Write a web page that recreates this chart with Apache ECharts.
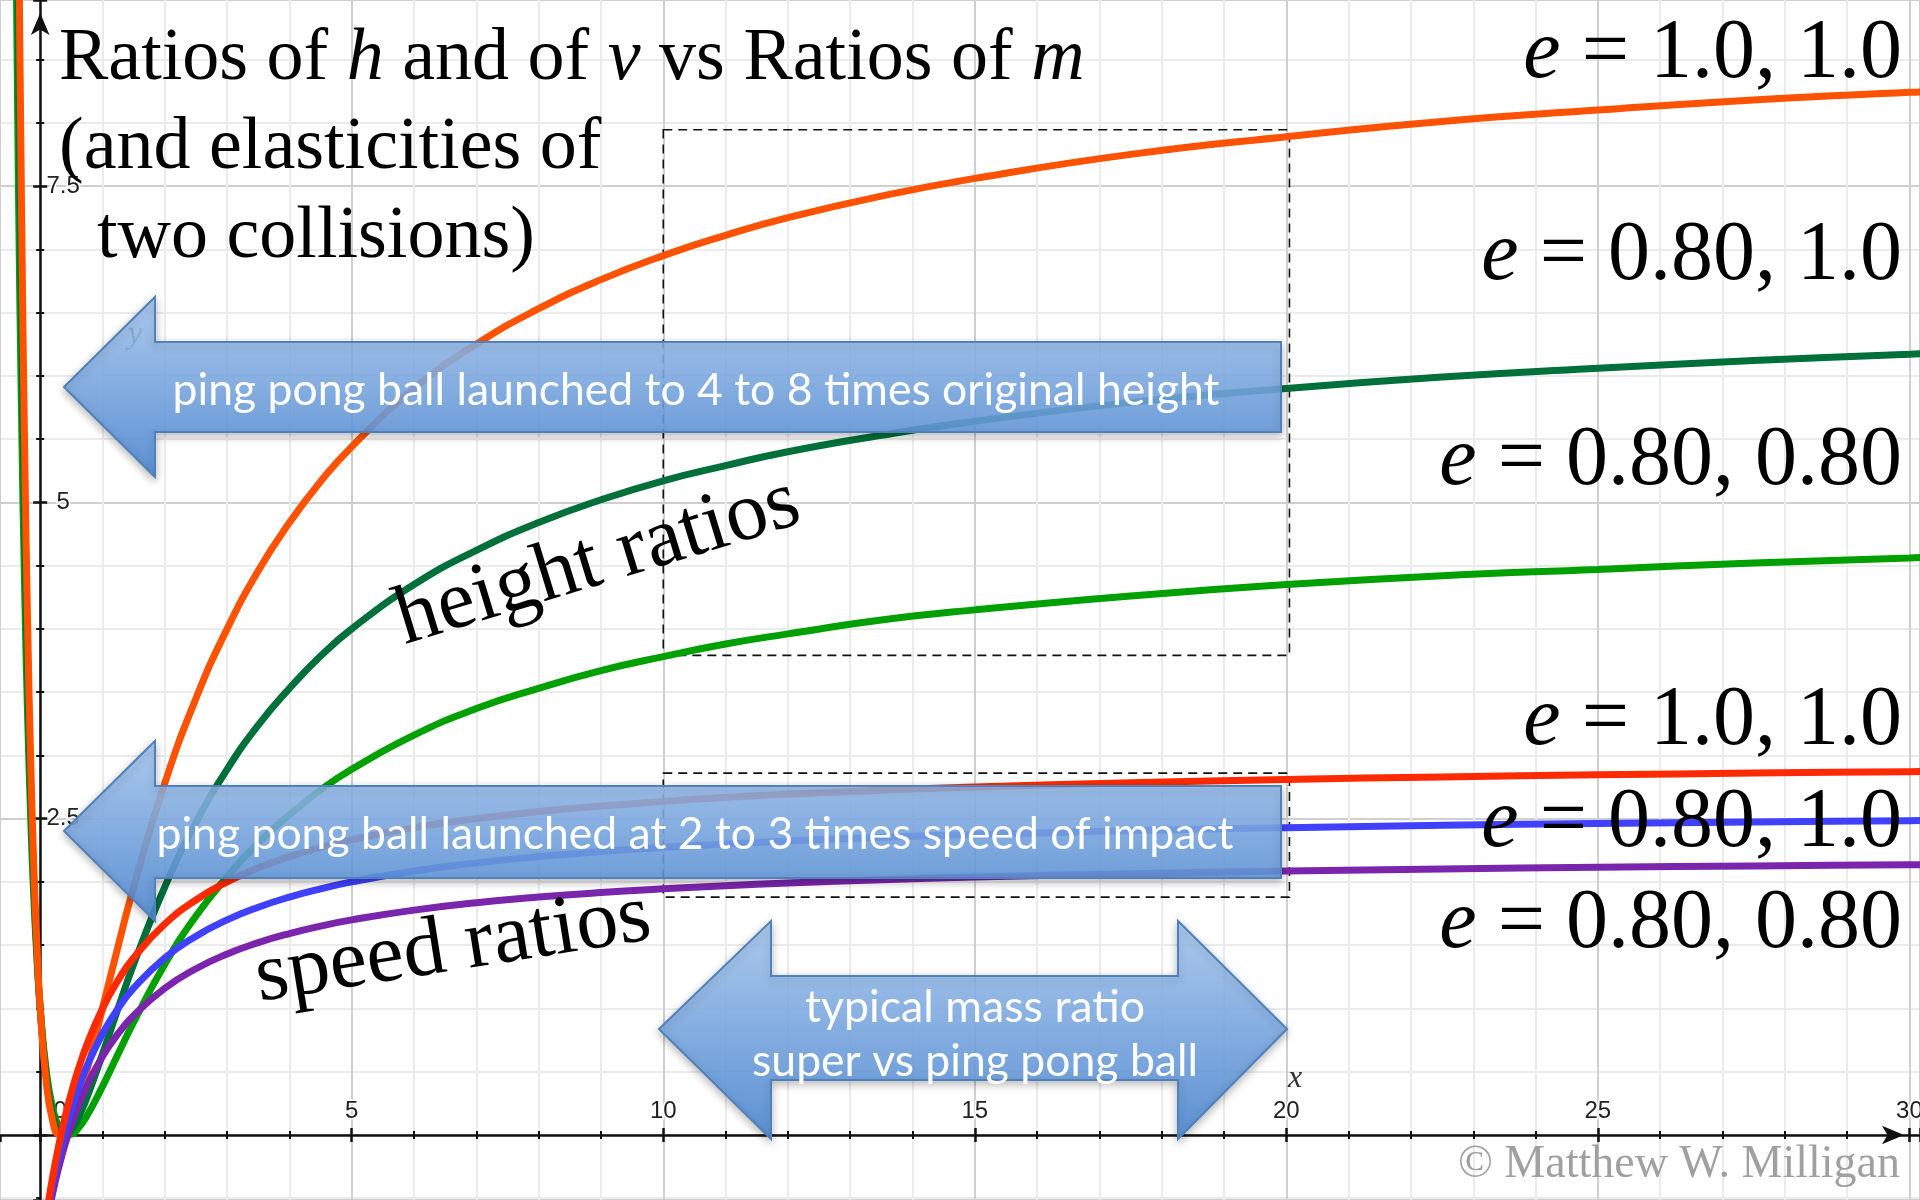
<!DOCTYPE html>
<html><head><meta charset="utf-8">
<script src="https://cdn.jsdelivr.net/npm/echarts@6/dist/echarts.min.js"></script>
<style>html,body{margin:0;padding:0;background:#fff}#c{width:1920px;height:1200px}</style>
</head><body><div id="c"></div>
<script>
// ---- data ----
const massRatioHeight = [-0.4, -0.35, -0.3, -0.25, -0.2, -0.15, -0.1, -0.05, 0, 0.1, 0.2, 0.3, 0.4, 0.5, 0.6, 0.75, 1, 1.25, 1.5, 2, 2.5, 3, 3.5, 4, 4.5, 5, 6, 7, 8, 9, 10, 11, 12, 13.5, 15, 17.5, 20, 22.5, 25, 27.5, 30, 30.5];
const heightE11   = [13.44, 9.95, 7.37, 5.44, 4.00, 2.91, 2.09, 1.47, 1.00, 0.405, 0.111, 0.006, 0.020, 0.111, 0.25, 0.51, 1.00, 1.49, 1.96, 2.78, 3.45, 4.00, 4.46, 4.84, 5.165, 5.44, 5.90, 6.25, 6.53, 6.76, 6.95, 7.11, 7.25, 7.42, 7.56, 7.75, 7.89, 8.01, 8.10, 8.18, 8.24, 8.25];
const heightE0810 = [11.56, 8.64, 6.47, 4.84, 3.61, 2.67, 1.96, 1.42, 1.00, 0.453, 0.160, 0.029, 0.001, 0.040, 0.123, 0.295, 0.64, 1.00, 1.35, 1.96, 2.47, 2.89, 3.24, 3.53, 3.785, 4.00, 4.35, 4.62, 4.84, 5.02, 5.17, 5.29, 5.40, 5.53, 5.64, 5.79, 5.90, 5.99, 6.06, 6.12, 6.17, 6.18];
const heightE0808 = [9.99, 7.53, 5.71, 4.33, 3.28, 2.47, 1.85, 1.37, 1.00, 0.498, 0.212, 0.064, 0.006, 0.006, 0.046, 0.151, 0.384, 0.64, 0.891, 1.35, 1.73, 2.04, 2.31, 2.53, 2.726, 2.89, 3.16, 3.37, 3.53, 3.67, 3.78, 3.88, 3.96, 4.07, 4.15, 4.26, 4.35, 4.42, 4.47, 4.52, 4.56, 4.57];

const massRatioSpeed = [0.1, 0.2, 0.3, 0.4, 0.5, 0.6, 0.75, 1, 1.25, 1.5, 2, 2.5, 3, 3.5, 4, 4.5, 5, 6, 7, 8, 9, 10, 11, 12, 13.5, 15, 17.5, 20, 22.5, 25, 27.5, 30, 30.5];
const speedE11   = [-0.636, -0.333, -0.077, 0.143, 0.333, 0.5, 0.714, 1.0, 1.222, 1.4, 1.667, 1.857, 2.0, 2.111, 2.2, 2.273, 2.333, 2.429, 2.5, 2.556, 2.6, 2.636, 2.667, 2.692, 2.724, 2.75, 2.784, 2.81, 2.83, 2.846, 2.86, 2.871, 2.873];
const speedE0810 = [-0.673, -0.4, -0.169, 0.029, 0.2, 0.35, 0.543, 0.8, 1.0, 1.16, 1.4, 1.571, 1.7, 1.8, 1.88, 1.945, 2.0, 2.086, 2.15, 2.2, 2.24, 2.273, 2.3, 2.323, 2.352, 2.375, 2.405, 2.429, 2.447, 2.462, 2.474, 2.484, 2.486];
const speedE0808 = [-0.705, -0.46, -0.252, -0.074, 0.08, 0.215, 0.389, 0.62, 0.8, 0.944, 1.16, 1.314, 1.43, 1.52, 1.592, 1.651, 1.7, 1.777, 1.835, 1.88, 1.916, 1.945, 1.97, 1.991, 2.017, 2.038, 2.065, 2.086, 2.102, 2.115, 2.126, 2.136, 2.137];

// dashed boxes [xFrom, yTop, xTo, yBottom]
const dashBoxes = [[10, 7.945, 20.05, 3.79], [10, 2.86, 20.05, 1.88]];

const titleLines = ['Ratios of {i|h} and of {i|v} vs Ratios of {i|m}', '(and elasticities of', 'two collisions)'];
const elasticityLabels = ['1.0, 1.0', '0.80, 1.0', '0.80, 0.80', '1.0, 1.0', '0.80, 1.0', '0.80, 0.80'];
const arrowTexts = ['ping pong ball launched to 4 to 8 times original height', 'ping pong ball launched at 2 to 3 times speed of impact'];
const massArrowText = ['typical mass ratio', 'super vs ping pong ball'];

// ---- layout ----
const W = 1920, H = 1200;
const X_MIN = -0.645, X_MAX = 30.17, Y_MIN = -0.514, Y_MAX = 8.97;
const ZERO_LEFT = -X_MIN / (X_MAX - X_MIN) * W;          // pixel column of x = 0
const ZERO_BOTTOM = H - Y_MAX / (Y_MAX - Y_MIN) * H;     // distance of y = 0 from the bottom
const SERIF = '"Liberation Serif", "Times New Roman", serif';
const SANS = 'Lato, "Open Sans", sans-serif';

const mctx = document.createElement('canvas').getContext('2d');
function fit(text, family, target) { mctx.font = '100px ' + family; return 100 * target / mctx.measureText(text).width; }

const zip = (xs, ys) => xs.map((x, i) => [x, ys[i]]);

const tickStyle = { color: '#111', width: 2.5 };
function ticks(inside) {
  return {
    axisTick: { show: true, inside, length: 7, lineStyle: tickStyle },
    minorTick: { show: true, splitNumber: 5, length: 4, lineStyle: { color: '#111', width: 2 } }
  };
}
const labelBase = { fontFamily: '"Liberation Sans", Arial, sans-serif', fontSize: 24, color: '#222',
  textBorderColor: '#fff', textBorderWidth: 3, showMaxLabel: false };

const chart = echarts.init(document.getElementById('c'), null, { renderer: 'canvas' });

function lineSeries(name, xs, ys, color) {
  return { name, type: 'line', data: zip(xs, ys), showSymbol: false, symbol: 'none',
    smooth: 0.5, lineStyle: { color, width: 7 }, itemStyle: { color }, z: 3, animation: false };
}

const series = [
  lineSeries('h e=0.80,0.80', massRatioHeight, heightE0808, '#00a000'),
  lineSeries('h e=0.80,1.0', massRatioHeight, heightE0810, '#00703a'),
  lineSeries('h e=1.0,1.0', massRatioHeight, heightE11, '#ff5200'),
  lineSeries('v e=0.80,0.80', massRatioSpeed, speedE0808, '#7b25ad'),
  lineSeries('v e=0.80,1.0', massRatioSpeed, speedE0810, '#4040ff'),
  lineSeries('v e=1.0,1.0', massRatioSpeed, speedE11, '#ff2a00')
];
series[0].markArea = { silent: true,
  itemStyle: { color: 'rgba(0,0,0,0)', borderColor: '#111', borderWidth: 1.6, borderType: [9, 6] },
  data: dashBoxes.map(b => [{ coord: [b[0], b[1]] }, { coord: [b[2], b[3]] }]) };

// ---- graphics ----
const graphics = [];
function txt(text, x, y, font, opts) {
  opts = opts || {};
  graphics.push({ type: 'text', x, y, rotation: opts.rotation || 0, z: opts.z || 50,
    style: { text, x: 0, y: 0, font, fill: opts.fill || '#000', align: opts.align || 'left', textAlign: opts.align || 'left',
      verticalAlign: 'middle', textVerticalAlign: 'middle', rich: opts.rich } });
}
const italic74 = { i: { font: 'italic 74px ' + SERIF } };
txt(titleLines[0], 59, 60, '74px ' + SERIF, { rich: italic74 });
txt(titleLines[1], 59, 149, '74px ' + SERIF, { rich: italic74 });
txt(titleLines[2], 97, 238, '74px ' + SERIF, { rich: italic74 });

const eY = [55, 257, 462, 722, 824, 925];
elasticityLabels.forEach((l, i) => txt('{i|e} = ' + l, 1902, eY[i], '84px ' + SERIF,
  { align: 'right', rich: { i: { font: 'italic 84px ' + SERIF } } }));

txt('height ratios', 598, 562, '84px ' + SERIF, { align: 'center', rotation: 17 * Math.PI / 180 });
txt('speed ratios', 453, 948, '84px ' + SERIF, { align: 'center', rotation: 9 * Math.PI / 180 });
txt('\u00a9 Matthew W. Milligan', 1900, 1165, '46px ' + SERIF, { align: 'right', fill: '#a0a0a0' });
txt('x', 1295, 1079, 'italic 32px ' + SERIF, { align: 'center', fill: '#333' });
txt('y', 135, 335, 'italic 32px ' + SERIF, { align: 'center', fill: '#444', z: 5 });

function grad() {
  return new echarts.graphic.LinearGradient(0, 0, 0, 1, [
    { offset: 0, color: 'rgba(168,203,245,0.84)' },
    { offset: 1, color: 'rgba(78,138,214,0.88)' }]);
}
function poly(points) {
  graphics.push({ type: 'polygon', z: 40, shape: { points },
    style: { fill: grad(), stroke: '#4f81bd', lineWidth: 2, shadowBlur: 8, shadowOffsetY: 3, shadowColor: 'rgba(0,0,0,0.3)' } });
}
poly([[64, 387], [155, 297], [155, 342], [1281, 342], [1281, 432], [155, 432], [155, 477]]);
poly([[64, 831], [155, 741], [155, 786], [1281, 786], [1281, 878], [155, 878], [155, 921]]);
poly([[659, 1029], [771, 921], [771, 976], [1178, 976], [1178, 921], [1287, 1029], [1178, 1139], [1178, 1080], [771, 1080], [771, 1139]]);

const a1 = fit(arrowTexts[0], SANS, 1048), a2 = fit(arrowTexts[1], SANS, 1078);
txt(arrowTexts[0], 696, 391, a1.toFixed(1) + 'px ' + SANS, { align: 'center', fill: '#fff', z: 60 });
txt(arrowTexts[1], 695, 835, a2.toFixed(1) + 'px ' + SANS, { align: 'center', fill: '#fff', z: 60 });
const m1 = fit(massArrowText[0], SANS, 340), m2 = fit(massArrowText[1], SANS, 446);
txt(massArrowText[0], 975, 1008, m1.toFixed(1) + 'px ' + SANS, { align: 'center', fill: '#fff', z: 60 });
txt(massArrowText[1], 975, 1062, m2.toFixed(1) + 'px ' + SANS, { align: 'center', fill: '#fff', z: 60 });

chart.setOption({
  animation: false,
  backgroundColor: '#fff',
  grid: [
    { left: 0, right: 0, top: 0, bottom: 0, containLabel: false, outerBoundsMode: 'none' },
    // second grid whose lower-left corner sits on the origin: carries the inner ticks and the labels
    { left: ZERO_LEFT, right: 0, top: 0, bottom: ZERO_BOTTOM, containLabel: false, outerBoundsMode: 'none' }
  ],
  xAxis: [
    Object.assign({ type: 'value', gridIndex: 0, min: X_MIN, max: X_MAX, minInterval: 5, maxInterval: 5, splitNumber: 6, position: 'bottom',
      axisLine: { show: true, onZero: true, symbol: ['none', 'arrow'], symbolSize: [14, 22], symbolOffset: [0, -16], lineStyle: { color: '#111', width: 2.5 } },
      axisLabel: { show: false },
      splitLine: { show: true, lineStyle: { color: '#cfcfcf', width: 2 } },
      minorSplitLine: { show: true, lineStyle: { color: '#ebebeb', width: 2 } } }, ticks(false)),
    Object.assign({ type: 'value', gridIndex: 1, min: 0, max: X_MAX, minInterval: 5, maxInterval: 5, splitNumber: 6, position: 'bottom',
      axisLine: { show: false, onZero: false },
      axisLabel: Object.assign({}, labelBase, { show: true, inside: true, margin: 12, showMinLabel: true,
        formatter: v => v === 0 ? '{o|0}' : String(v), rich: { o: { padding: [0, 0, 0, 40] } } }),
      splitLine: { show: false } }, ticks(true))
  ],
  yAxis: [
    Object.assign({ type: 'value', gridIndex: 0, min: Y_MIN, max: Y_MAX, minInterval: 2.5, maxInterval: 2.5, splitNumber: 4, position: 'left',
      axisLine: { show: true, onZero: true, symbol: ['none', 'arrow'], symbolSize: [14, 22], symbolOffset: [0, -13], lineStyle: { color: '#111', width: 2.5 } },
      axisLabel: { show: false },
      splitLine: { show: true, lineStyle: { color: '#cfcfcf', width: 2 } },
      minorSplitLine: { show: true, lineStyle: { color: '#ebebeb', width: 2 } } }, ticks(false)),
    Object.assign({ type: 'value', gridIndex: 1, min: 0, max: Y_MAX, minInterval: 2.5, maxInterval: 2.5, splitNumber: 4, position: 'left',
      axisLine: { show: false, onZero: false },
      axisLabel: Object.assign({}, labelBase, { show: true, inside: true, margin: 23, align: 'center', showMinLabel: false,
        formatter: v => String(v) }),
      splitLine: { show: false } }, ticks(true))
  ],
  series,
  graphic: { elements: graphics }
});
</script></body></html>
